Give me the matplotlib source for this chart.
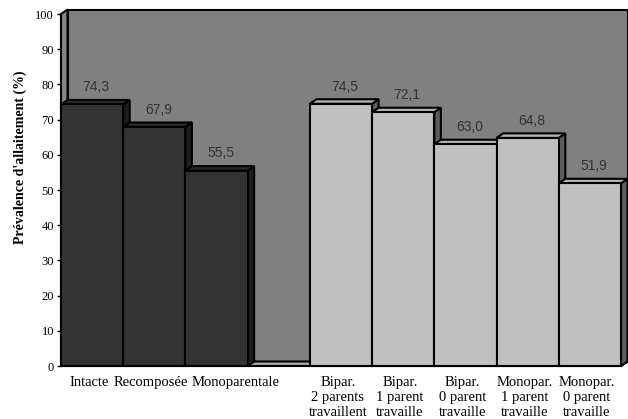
import numpy as np
import matplotlib
matplotlib.use("Agg")
import matplotlib.pyplot as plt
from matplotlib.patches import Polygon

# ---- data ----
categories = ["Intacte", "Recomposée", "Monoparentale", "",
              "Bipar.\n2 parents\ntravaillent", "Bipar.\n1 parent\ntravaille",
              "Bipar.\n0 parent\ntravaille", "Monopar.\n1 parent\ntravaille",
              "Monopar.\n0 parent\ntravaille"]
values = [74.3, 67.9, 55.5, np.nan, 74.5, 72.1, 63.0, 64.8, 51.9]
value_labels = ["74,3", "67,9", "55,5", "", "74,5", "72,1", "63,0", "64,8", "51,9"]
groups = ["structure", "structure", "structure", "", "emploi", "emploi", "emploi", "emploi", "emploi"]
yticks = list(range(0, 101, 10))
ylabel = "Prévalence d'allaitement (%)"

# ---- style ----
front_col = {"structure": "#333333", "emploi": "#c0c0c0"}
top_col = {"structure": "#2a2a2a", "emploi": "#b4b4b4"}
side_col = {"structure": "#1c1c1c", "emploi": "#5e5e5e"}
LW = 1.5

W, H = 628, 419
fig = plt.figure(figsize=(W / 100, H / 100), dpi=100)
fig.patch.set_facecolor("white")

n = len(values)
px_per_slot = 560 / n
px_per_unit = 352 / 100
DXp, DYp = 6.5, 4.5
DX = DXp / px_per_slot
DY = DYp / px_per_unit

ax_left, ax_bottom = 61, 366
ax_w = 560 + DXp
ax_h = 352 + DYp
ax = fig.add_axes([ax_left / W, (H - ax_bottom) / H, ax_w / W, ax_h / H])
ax.set_xlim(0, n + DX)
ax.set_ylim(0, 100 + DY)
ax.patch.set_visible(False)
for s in ax.spines.values():
    s.set_visible(False)

# walls
back = Polygon([(DX, DY), (n + DX, DY), (n + DX, 100 + DY), (DX, 100 + DY)],
               closed=True, fc="#808080", ec="black", lw=LW, zorder=1, clip_on=False)
left = Polygon([(0, 0), (0, 100), (DX, 100 + DY), (DX, DY)],
               closed=True, fc="#858585", ec="black", lw=LW, zorder=1, clip_on=False)
floor = Polygon([(0, 0), (n, 0), (n + DX, DY), (DX, DY)],
                closed=True, fc="#a8a8a8", ec="black", lw=LW, zorder=1.5, clip_on=False)
for p in (back, left, floor):
    ax.add_patch(p)

# bars
z = 2
for i, (v, g, lab) in enumerate(zip(values, groups, value_labels)):
    if np.isnan(v):
        continue
    side = Polygon([(i + 1, 0), (i + 1, v), (i + 1 + DX, v + DY), (i + 1 + DX, DY)],
                   closed=True, fc=side_col[g], ec="black", lw=LW, zorder=z, clip_on=False)
    top = Polygon([(i, v), (i + 1, v), (i + 1 + DX, v + DY), (i + DX, v + DY)],
                  closed=True, fc=top_col[g], ec="black", lw=LW, zorder=z, clip_on=False)
    ax.add_patch(side)
    ax.add_patch(top)
    ax.bar([i], [v], width=1, align="edge", color=front_col[g], edgecolor="black",
           linewidth=LW, zorder=z + 0.5, clip_on=False)
    ax.text(i + 0.5 + DX * 0.6, v + DY + 3.6, lab, ha="center", va="center",
            fontsize=10, color="#333333", family="Liberation Sans", zorder=20)
    z += 1

# y ticks
ax.set_yticks(yticks)
ax.set_yticklabels([str(t) for t in yticks], family="Liberation Serif", fontsize=9)
ax.tick_params(axis="y", length=3, width=1, pad=2, color="black")

# x labels
ax.set_xticks([])
for i, c in enumerate(categories):
    if not c:
        continue
    if "\n" in c:
        x, ha = i + 0.5 - 0.05, "center"
    elif i == 2:
        x, ha = i + 0.1, "left"
    else:
        x, ha = i + 0.45, "center"
    ax.annotate(c, xy=(x, 0), xycoords=("data", "axes fraction"),
                xytext=(0, -7), textcoords="offset points",
                ha=ha, va="top", family="Liberation Serif", fontsize=10.5,
                linespacing=1.22, multialignment="center")

fig.text(20 / W, 1 - 157 / H, ylabel, rotation=90, ha="center", va="center",
         family="Liberation Serif", fontweight="bold", fontsize=10)

fig.savefig("out.png", dpi=100)
